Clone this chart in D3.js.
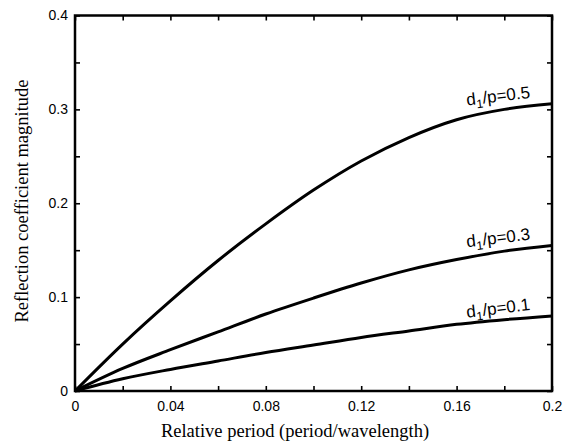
<!DOCTYPE html>
<html lang="en">
<head>
<meta charset="UTF-8">
<title>Reflection coefficient</title>
<style>
  body { margin: 0; background: #fff; }
  .tick text { font-family: "Liberation Sans", Arial, sans-serif; font-size: 14px; fill: #000; }
  .axis-title { font-family: "Liberation Serif", "Times New Roman", serif; font-size: 18.5px; fill: #000; }
  .curve-label { font-family: "Liberation Sans", Arial, sans-serif; font-size: 17px; fill: #000; }
</style>
</head>
<body>
<div id="chart"></div>
<script src="https://d3js.org/d3.v7.min.js"></script>
<script>
// relative period (period / wavelength)
const period = [0, 0.02, 0.04, 0.06, 0.08, 0.10, 0.12, 0.14, 0.16, 0.18, 0.20];
// reflection coefficient magnitude for each d1/p
const ratio05 = [0, 0.050, 0.096, 0.139, 0.178, 0.214, 0.245, 0.270, 0.289, 0.300, 0.306];
const ratio03 = [0, 0.024, 0.044, 0.063, 0.082, 0.099, 0.115, 0.129, 0.140, 0.149, 0.155];
const ratio01 = [0, 0.013, 0.023, 0.032, 0.041, 0.049, 0.057, 0.064, 0.071, 0.076, 0.080];
const seriesNames = ["0.5", "0.3", "0.1"];
const xTickLabels = [0, 0.04, 0.08, 0.12, 0.16, 0.2];
const yTickLabels = [0, 0.1, 0.2, 0.3, 0.4];

const width = 565, height = 447;
const margin = {top: 15.5, right: 13, bottom: 56, left: 75};
const w = width - margin.left - margin.right;
const h = height - margin.top - margin.bottom;

const svg = d3.select("#chart").append("svg")
    .attr("width", width)
    .attr("height", height);

const g = svg.append("g")
    .attr("transform", `translate(${margin.left},${margin.top})`);

const x = d3.scaleLinear().domain([0, 0.2]).range([0, w]);
const y = d3.scaleLinear().domain([0, 0.4]).range([h, 0]);

const xMinor = d3.range(0, 0.2001, 0.02);
const yMinor = d3.range(0, 0.4001, 0.05);

function labelX(d) { return xTickLabels.some(v => Math.abs(v - d) < 1e-9) ? d3.format("")(+d.toFixed(2)) : ""; }
function labelY(d) { return yTickLabels.some(v => Math.abs(v - d) < 1e-9) ? d3.format("")(+d.toFixed(1)) : ""; }

// bottom + left with labels, top + right mirrored
g.append("g").attr("transform", `translate(0,${h})`)
    .call(d3.axisBottom(x).tickValues(xMinor).tickSizeInner(-5).tickSizeOuter(0).tickPadding(10).tickFormat(labelX));
g.append("g")
    .call(d3.axisLeft(y).tickValues(yMinor).tickSizeInner(-5).tickSizeOuter(0).tickPadding(7).tickFormat(labelY));
g.append("g")
    .call(d3.axisTop(x).tickValues(xMinor).tickSizeInner(-5).tickSizeOuter(0).tickFormat(""));
g.append("g").attr("transform", `translate(${w},0)`)
    .call(d3.axisRight(y).tickValues(yMinor).tickSizeInner(-5).tickSizeOuter(0).tickFormat(""));

g.selectAll(".domain").remove();
g.selectAll(".tick line").attr("stroke", "#000").attr("stroke-width", 1.6);

g.append("rect")
    .attr("width", w).attr("height", h)
    .attr("fill", "none").attr("stroke", "#000").attr("stroke-width", 2.5);

// curves
const series = [ratio05, ratio03, ratio01];
const line = d3.line()
    .x(d => x(d[0]))
    .y(d => y(d[1]))
    .curve(d3.curveMonotoneX);

series.forEach((vals, i) => {
    const pts = period.map((p, j) => [p, vals[j]]);
    g.append("path")
        .datum(pts)
        .attr("fill", "none")
        .attr("stroke", "#000")
        .attr("stroke-width", 3)
        .attr("d", line);

    const lx = x(0.191), ly = y(vals[vals.length - 1]) - 6;
    const t = g.append("text")
        .attr("class", "curve-label")
        .attr("text-anchor", "end")
        .attr("transform", `translate(${lx},${ly}) rotate(-7)`);
    t.append("tspan").text("d");
    t.append("tspan").attr("font-size", "12px").attr("dy", 4).text("1");
    t.append("tspan").attr("dy", -4).text("/p=" + seriesNames[i]);
});

// axis titles
svg.append("text")
    .attr("class", "axis-title")
    .attr("text-anchor", "middle")
    .attr("x", 295)
    .attr("y", 437)
    .text("Relative period (period/wavelength)");

svg.append("text")
    .attr("class", "axis-title")
    .attr("text-anchor", "middle")
    .attr("transform", `translate(28,201) rotate(-90)`)
    .text("Reflection coefficient magnitude");
</script>
</body>
</html>
